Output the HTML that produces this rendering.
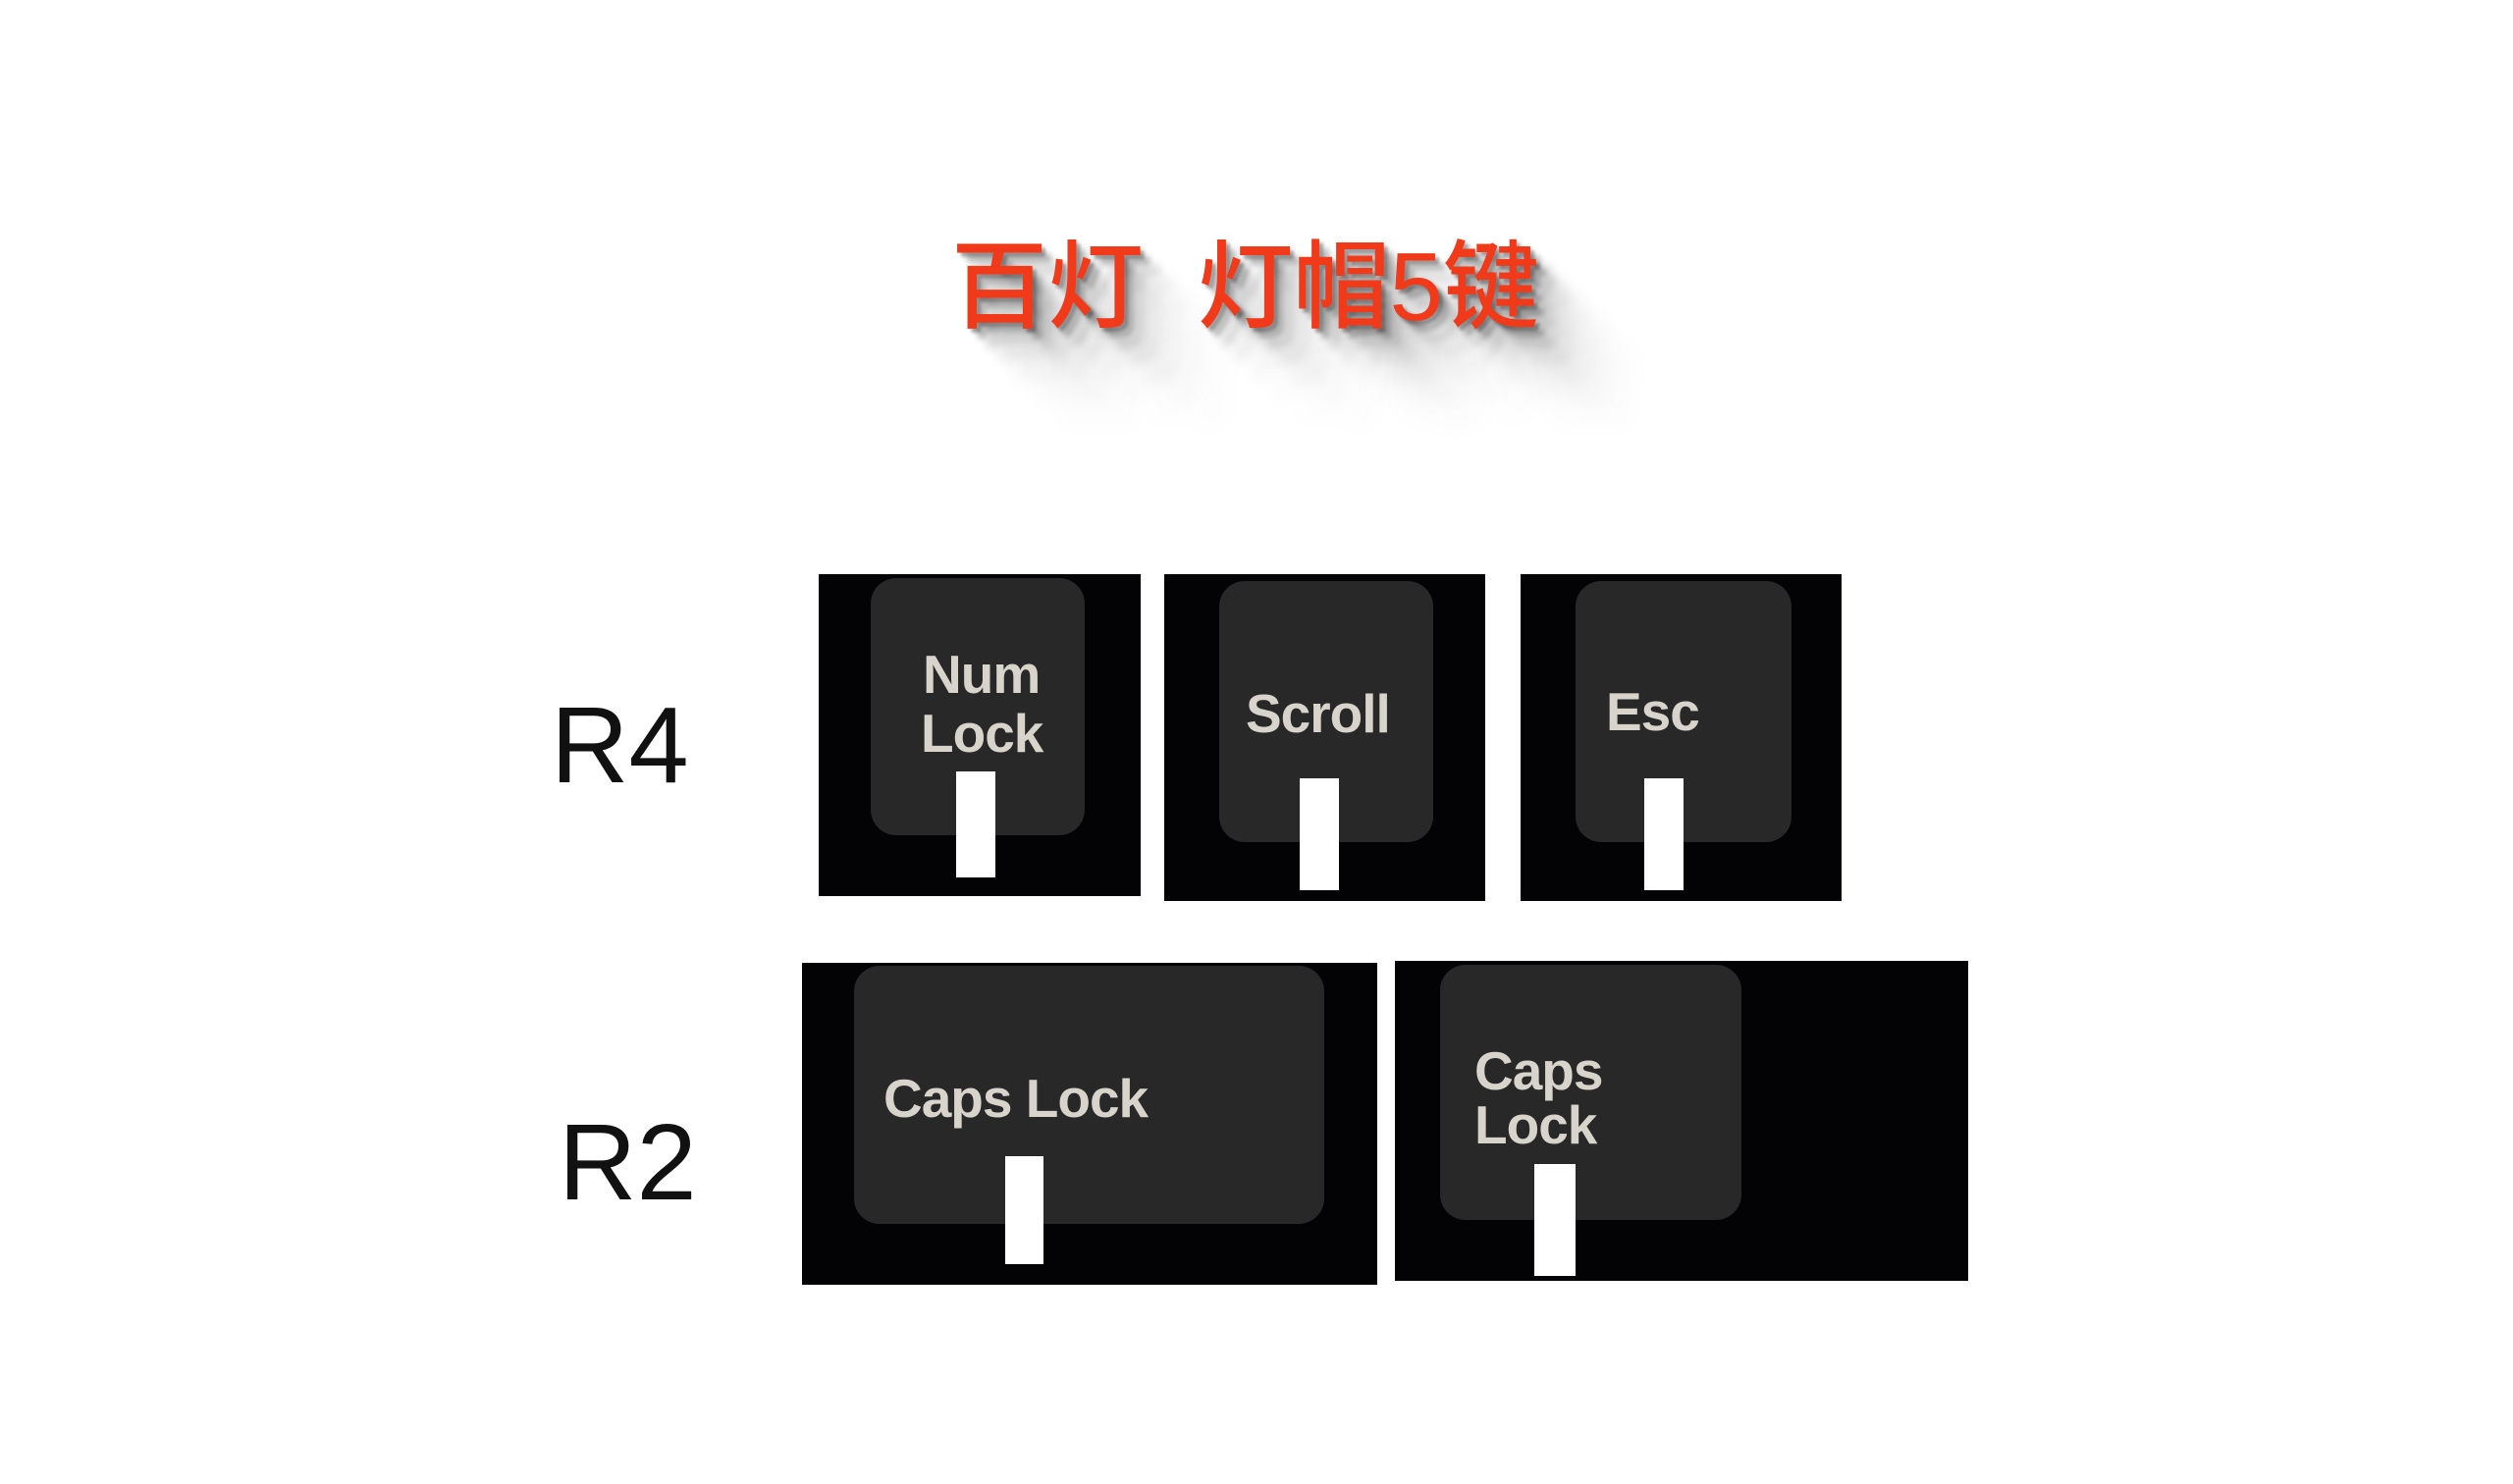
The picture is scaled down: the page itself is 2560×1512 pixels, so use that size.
<!DOCTYPE html>
<html><head><meta charset="utf-8"><style>
html,body{margin:0;padding:0;background:#fff;}
body{width:2560px;height:1512px;position:relative;overflow:hidden;font-family:"Liberation Sans","DejaVu Sans",sans-serif;}
#w{position:absolute;left:0;top:0;width:2560px;height:1512px;transform:translate(-5px,-4px);}
.a{position:absolute;}
.box{background:#030306;}
.in{background:#282828;border-radius:26px;}
.bar{background:#fff;}
.t{color:#d8d4cc;font-size:55px;line-height:58px;font-weight:bold;letter-spacing:-1px;white-space:nowrap;}
.r{color:#111;font-size:110px;line-height:122px;}
.title{left:974px;top:236px;font-family:"Liberation Sans","Noto Sans CJK SC",sans-serif;font-size:98px;line-height:120px;color:#f03a1a;font-weight:500;white-space:pre;
text-shadow:4px 4px 3px rgba(0,0,0,.35),10px 10px 6px rgba(0,0,0,.25),20px 20px 10px rgba(0,0,0,.18),34px 34px 14px rgba(0,0,0,.12),52px 52px 18px rgba(0,0,0,.08),74px 74px 24px rgba(0,0,0,.05),100px 100px 30px rgba(0,0,0,.03);}
</style></head><body><div id="w">
<div class="a title">百灯  灯帽5键</div>

<div class="a r" style="left:566px;top:703px;">R4</div>
<div class="a r" style="left:574px;top:1128px;">R2</div>

<div class="a box" style="left:839px;top:589px;width:328px;height:328px;"></div>
<div class="a in" style="left:892px;top:593px;width:218px;height:262px;"></div>
<div class="a t" style="left:945px;top:662px;">Num</div>
<div class="a t" style="left:943px;top:722px;">Lock</div>
<div class="a bar" style="left:979px;top:790px;width:40px;height:108px;"></div>

<div class="a box" style="left:1191px;top:589px;width:327px;height:333px;"></div>
<div class="a in" style="left:1247px;top:596px;width:218px;height:266px;"></div>
<div class="a t" style="left:1274px;top:702px;">Scroll</div>
<div class="a bar" style="left:1329px;top:797px;width:40px;height:114px;"></div>

<div class="a box" style="left:1554px;top:589px;width:327px;height:333px;"></div>
<div class="a in" style="left:1610px;top:596px;width:220px;height:266px;"></div>
<div class="a t" style="left:1641px;top:700px;">Esc</div>
<div class="a bar" style="left:1680px;top:797px;width:40px;height:114px;"></div>

<div class="a box" style="left:822px;top:985px;width:586px;height:328px;"></div>
<div class="a in" style="left:875px;top:988px;width:479px;height:263px;"></div>
<div class="a t" style="left:905px;top:1094px;">Caps Lock</div>
<div class="a bar" style="left:1029px;top:1182px;width:39px;height:110px;"></div>

<div class="a box" style="left:1426px;top:983px;width:584px;height:326px;"></div>
<div class="a in" style="left:1472px;top:987px;width:307px;height:260px;"></div>
<div class="a t" style="left:1507px;top:1066px;">Caps</div>
<div class="a t" style="left:1507px;top:1121px;">Lock</div>
<div class="a bar" style="left:1568px;top:1190px;width:42px;height:114px;"></div>
</div></body></html>
